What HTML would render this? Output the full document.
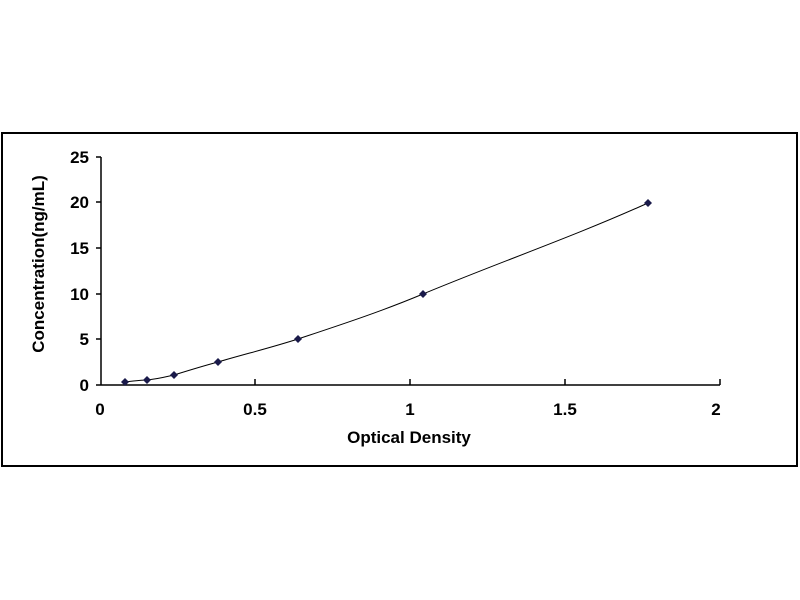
<!DOCTYPE html>
<html><head><style>body{margin:0;background:#fff}svg{display:block}</style></head><body>
<svg width="800" height="600" xmlns="http://www.w3.org/2000/svg" font-family="Liberation Sans, Arial, sans-serif" font-weight="bold">
<rect x="2" y="133" width="795" height="333" fill="#fff" stroke="#000" stroke-width="2"/>
<g stroke="#000" stroke-width="1.5">
<line x1="101" y1="157" x2="101" y2="385"/>
<line x1="101" y1="385" x2="720" y2="385"/>
<line x1="96" y1="157" x2="101" y2="157"/><line x1="96" y1="202" x2="101" y2="202"/><line x1="96" y1="248" x2="101" y2="248"/><line x1="96" y1="294" x2="101" y2="294"/><line x1="96" y1="339" x2="101" y2="339"/><line x1="96" y1="385" x2="101" y2="385"/>
<line x1="255" y1="379" x2="255" y2="385"/><line x1="410" y1="379" x2="410" y2="385"/><line x1="565" y1="379" x2="565" y2="385"/><line x1="720" y1="379" x2="720" y2="385"/>
</g>
<g font-size="17" text-anchor="end" fill="#000">
<text x="89" y="163">25</text><text x="89" y="208">20</text><text x="89" y="254">15</text><text x="89" y="300">10</text><text x="89" y="345">5</text><text x="89" y="391">0</text>
</g>
<g font-size="17" text-anchor="middle" fill="#000">
<text x="100" y="415">0</text><text x="255" y="415">0.5</text><text x="410" y="415">1</text><text x="565" y="415">1.5</text><text x="716" y="415">2</text>
<text x="409" y="443">Optical Density</text>
<text transform="translate(44,264) rotate(-90)">Concentration(ng/mL)</text>
</g>
<path d="M125,382 C135,381 140,380 147,380 C158,379 165,377 174,375 C190,370 203,366 218,362 C245,354 270,348 298,339 C340,325 380,312 423,294 C500,262 575,236 648,203" fill="none" stroke="#000" stroke-width="1"/>
<g fill="#1a1a4a">
<path d="M125,378 l4,4 -4,4 -4,-4z"/><path d="M147,376 l4,4 -4,4 -4,-4z"/><path d="M174,371 l4,4 -4,4 -4,-4z"/><path d="M218,358 l4,4 -4,4 -4,-4z"/><path d="M298,335 l4,4 -4,4 -4,-4z"/><path d="M423,290 l4,4 -4,4 -4,-4z"/><path d="M648,199 l4,4 -4,4 -4,-4z"/>
</g>
</svg>
</body></html>
